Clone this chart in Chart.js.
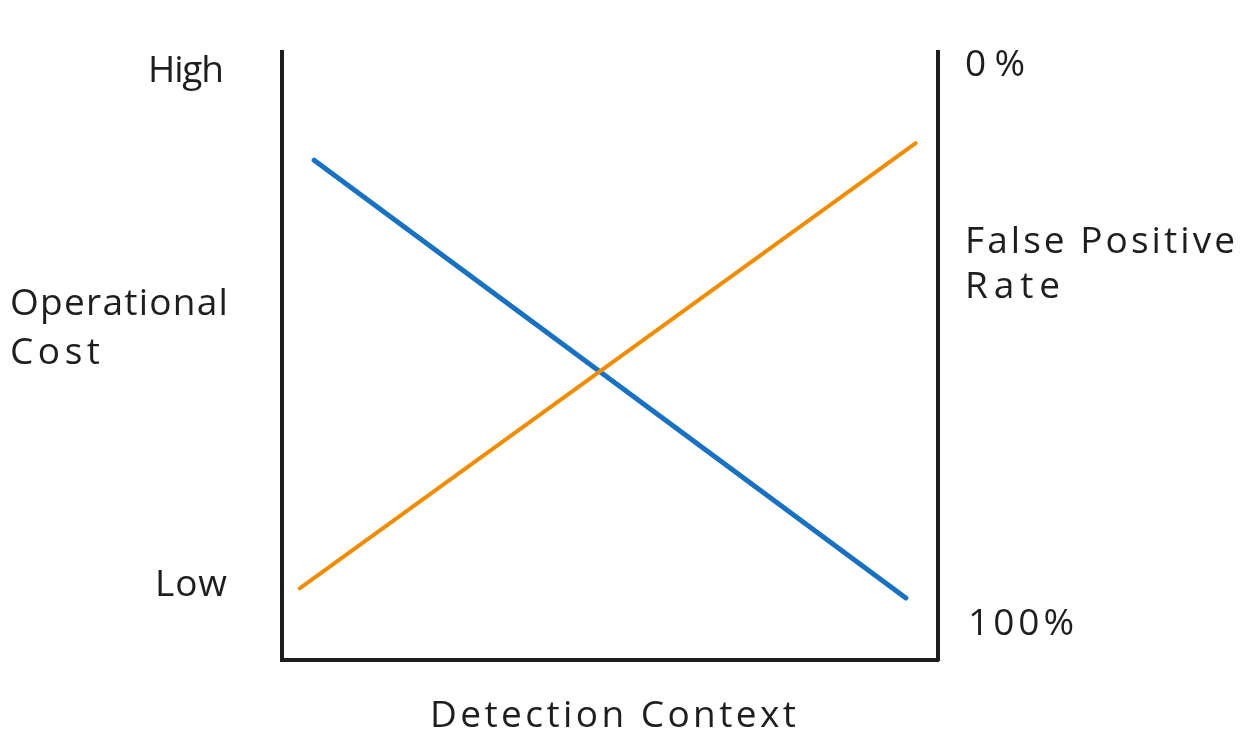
<!DOCTYPE html>
<html>
<head>
<meta charset="utf-8">
<script src="https://cdn.jsdelivr.net/npm/chart.js@4.4.1/dist/chart.umd.min.js"></script>
<style>
  html, body { margin: 0; padding: 0; background: #ffffff; }
  #wrap { width: 1240px; height: 754px; position: relative; }
</style>
</head>
<body>
<div id="wrap"><canvas id="c" width="1240" height="754"></canvas></div>
<script>
// ---- data ----
const costX = [4.9, 95.1];
const costY = [82.2, 10.2];
const fprX = [2.7, 96.6];
const fprY = [11.8, 85.0];

const leftTickLabels = ["High", "Low"];
const leftTickValues = [95.0, 10.5];
const rightTickLabels = ["0%", "100%"];
const rightTickValues = [96.1, 4.1];
const leftTitle = ["Operational", "Cost"];
const rightTitle = ["False Positive", "Rate"];
const xTitle = "Detection Context";

const ink = '#1e1e1e';
const FONT = '"Open Sans", Lato, sans-serif';

function pts(xs, ys) { return xs.map((x, i) => ({ x: x, y: ys[i] })); }

function drawFitted(ctx, text, x, baseline, width, size) {
  ctx.font = '500 ' + size + 'px ' + FONT;
  ctx.letterSpacing = '0px';
  const w = ctx.measureText(text).width;
  const n = Math.max(text.length - 1, 1);
  const ls = (width - w) / n;
  ctx.letterSpacing = ls.toFixed(2) + 'px';
  ctx.fillText(text, x, baseline);
  ctx.letterSpacing = '0px';
}

const labelPlugin = {
  id: 'labels',
  afterDraw(chart) {
    const ctx = chart.ctx;
    const yl = chart.scales.y;
    const yr = chart.scales.y2;
    const ca = chart.chartArea;
    ctx.save();
    ctx.fillStyle = ink;
    ctx.textAlign = 'left';
    ctx.textBaseline = 'alphabetic';
    const S = 37;
    // left tick labels
    drawFitted(ctx, leftTickLabels[0], 148, yl.getPixelForValue(leftTickValues[0]), 76, S);
    drawFitted(ctx, leftTickLabels[1], 155, yl.getPixelForValue(leftTickValues[1]), 72, S);
    // right tick labels
    drawFitted(ctx, rightTickLabels[0], 965, yr.getPixelForValue(rightTickValues[0]), 60, S);
    drawFitted(ctx, rightTickLabels[1], 968, yr.getPixelForValue(rightTickValues[1]), 106, S);
    // left title
    drawFitted(ctx, leftTitle[0], 10, 315, 218, S);
    drawFitted(ctx, leftTitle[1], 10, 364, 90, S);
    // right title
    drawFitted(ctx, rightTitle[0], 965, 253, 270, S);
    drawFitted(ctx, rightTitle[1], 965, 298, 95, S);
    // x title
    const xc = (ca.left + ca.right) / 2;
    drawFitted(ctx, xTitle, xc - 180, ca.bottom + 67, 366, S);
    ctx.restore();
  }
};

new Chart(document.getElementById('c'), {
  type: 'line',
  data: {
    datasets: [
      {
        label: 'False Positive Rate',
        data: pts(fprX, fprY),
        borderColor: '#f08c00',
        borderWidth: 4,
        borderCapStyle: 'round',
        pointRadius: 0,
        yAxisID: 'y'
      },
      {
        label: 'Operational Cost',
        data: pts(costX, costY),
        borderColor: '#1971c2',
        borderWidth: 5,
        borderCapStyle: 'round',
        pointRadius: 0,
        yAxisID: 'y'
      },
      {
        label: 'Operational Cost (stroke)',
        data: pts(costX, costY),
        borderColor: 'rgba(255,255,255,0.6)',
        borderWidth: 1,
        pointRadius: 0,
        yAxisID: 'y'
      }
    ]
  },
  options: {
    responsive: false,
    animation: false,
    devicePixelRatio: 1,
    layout: { padding: { left: 282, right: 302, top: 52, bottom: 94 } },
    plugins: { legend: { display: false }, tooltip: { enabled: false } },
    scales: {
      x: {
        type: 'linear', min: 0, max: 100,
        grid: { display: false },
        ticks: { display: false },
        border: { display: true, color: ink, width: 4 },
        afterFit(s) { s.height = 0; }
      },
      y: {
        type: 'linear', position: 'left', min: 0, max: 100,
        grid: { display: false },
        ticks: { display: false },
        border: { display: true, color: ink, width: 4 },
        afterFit(s) { s.width = 0; }
      },
      y2: {
        type: 'linear', position: 'right', min: 0, max: 100,
        grid: { display: false },
        ticks: { display: false },
        border: { display: true, color: ink, width: 4 },
        afterFit(s) { s.width = 0; }
      }
    }
  },
  plugins: [labelPlugin]
});
</script>
</body>
</html>
